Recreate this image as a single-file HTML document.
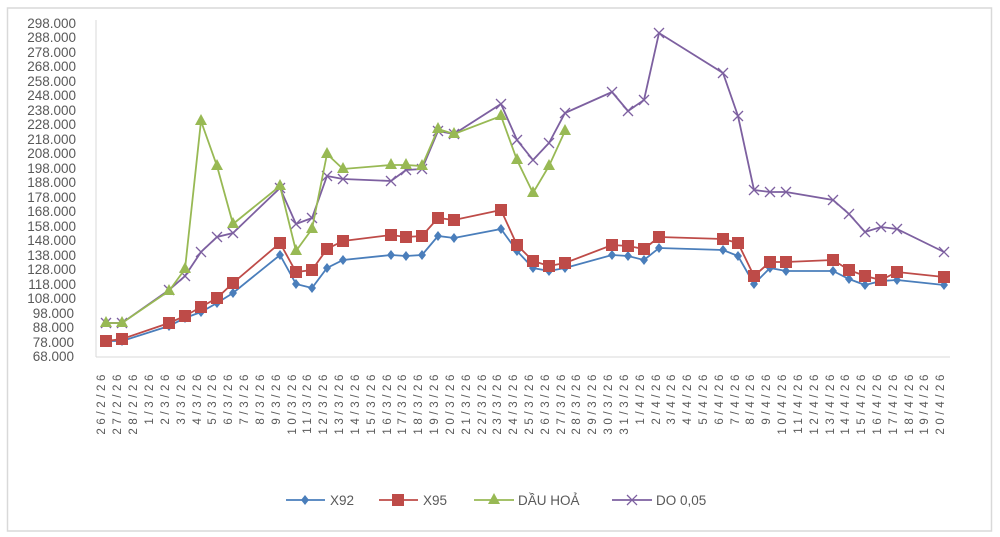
<!DOCTYPE html>
<html><head><meta charset="utf-8"><style>
html,body{margin:0;padding:0;background:#fff;}
svg{display:block;font-family:"Liberation Sans",sans-serif;}
</style></head><body>
<svg width="1000" height="537" viewBox="0 0 1000 537" xmlns="http://www.w3.org/2000/svg">
<rect x="7.5" y="8" width="984" height="523" fill="#fff" stroke="#d9d9d9" stroke-width="1.5"/>
<line x1="96" y1="20" x2="96" y2="357" stroke="#d9d9d9" stroke-width="1"/>
<line x1="96" y1="357" x2="950" y2="357" stroke="#d9d9d9" stroke-width="1"/>
<g font-size="13.5" fill="#595959" text-anchor="end">
<text x="76" y="28">298.000</text><text x="76" y="42">288.000</text><text x="76" y="57">278.000</text><text x="76" y="71">268.000</text><text x="76" y="86">258.000</text><text x="76" y="100">248.000</text><text x="76" y="115">238.000</text><text x="76" y="129">228.000</text><text x="76" y="144">218.000</text><text x="76" y="158">208.000</text><text x="76" y="173">198.000</text><text x="76" y="187">188.000</text><text x="76" y="202">178.000</text><text x="76" y="216">168.000</text><text x="76" y="231">158.000</text><text x="76" y="245">148.000</text><text x="76" y="260">138.000</text><text x="76" y="274">128.000</text><text x="76" y="289">118.000</text><text x="76" y="303">108.000</text><text x="74" y="318">98.000</text><text x="74" y="332">88.000</text><text x="74" y="347">78.000</text><text x="74" y="361">68.000</text>
</g>
<g font-size="11.5" fill="#595959" text-anchor="end" letter-spacing="3.6">
<text transform="translate(105,371) rotate(-90)">26/2/26</text>
<text transform="translate(121,371) rotate(-90)">27/2/26</text>
<text transform="translate(137,371) rotate(-90)">28/2/26</text>
<text transform="translate(153,371) rotate(-90)">1/3/26</text>
<text transform="translate(169,371) rotate(-90)">2/3/26</text>
<text transform="translate(185,371) rotate(-90)">3/3/26</text>
<text transform="translate(201,371) rotate(-90)">4/3/26</text>
<text transform="translate(216,371) rotate(-90)">5/3/26</text>
<text transform="translate(232,371) rotate(-90)">6/3/26</text>
<text transform="translate(248,371) rotate(-90)">7/3/26</text>
<text transform="translate(264,371) rotate(-90)">8/3/26</text>
<text transform="translate(280,371) rotate(-90)">9/3/26</text>
<text transform="translate(296,371) rotate(-90)">10/3/26</text>
<text transform="translate(311,371) rotate(-90)">11/3/26</text>
<text transform="translate(327,371) rotate(-90)">12/3/26</text>
<text transform="translate(343,371) rotate(-90)">13/3/26</text>
<text transform="translate(359,371) rotate(-90)">14/3/26</text>
<text transform="translate(375,371) rotate(-90)">15/3/26</text>
<text transform="translate(391,371) rotate(-90)">16/3/26</text>
<text transform="translate(406,371) rotate(-90)">17/3/26</text>
<text transform="translate(422,371) rotate(-90)">18/3/26</text>
<text transform="translate(438,371) rotate(-90)">19/3/26</text>
<text transform="translate(454,371) rotate(-90)">20/3/26</text>
<text transform="translate(470,371) rotate(-90)">21/3/26</text>
<text transform="translate(486,371) rotate(-90)">22/3/26</text>
<text transform="translate(501,371) rotate(-90)">23/3/26</text>
<text transform="translate(517,371) rotate(-90)">24/3/26</text>
<text transform="translate(533,371) rotate(-90)">25/3/26</text>
<text transform="translate(549,371) rotate(-90)">26/3/26</text>
<text transform="translate(565,371) rotate(-90)">27/3/26</text>
<text transform="translate(580,371) rotate(-90)">28/3/26</text>
<text transform="translate(596,371) rotate(-90)">29/3/26</text>
<text transform="translate(612,371) rotate(-90)">30/3/26</text>
<text transform="translate(628,371) rotate(-90)">31/3/26</text>
<text transform="translate(644,371) rotate(-90)">1/4/26</text>
<text transform="translate(660,371) rotate(-90)">2/4/26</text>
<text transform="translate(675,371) rotate(-90)">3/4/26</text>
<text transform="translate(691,371) rotate(-90)">4/4/26</text>
<text transform="translate(707,371) rotate(-90)">5/4/26</text>
<text transform="translate(723,371) rotate(-90)">6/4/26</text>
<text transform="translate(739,371) rotate(-90)">7/4/26</text>
<text transform="translate(754,371) rotate(-90)">8/4/26</text>
<text transform="translate(770,371) rotate(-90)">9/4/26</text>
<text transform="translate(786,371) rotate(-90)">10/4/26</text>
<text transform="translate(802,371) rotate(-90)">11/4/26</text>
<text transform="translate(818,371) rotate(-90)">12/4/26</text>
<text transform="translate(834,371) rotate(-90)">13/4/26</text>
<text transform="translate(849,371) rotate(-90)">14/4/26</text>
<text transform="translate(865,371) rotate(-90)">15/4/26</text>
<text transform="translate(881,371) rotate(-90)">16/4/26</text>
<text transform="translate(897,371) rotate(-90)">17/4/26</text>
<text transform="translate(913,371) rotate(-90)">18/4/26</text>
<text transform="translate(928,371) rotate(-90)">19/4/26</text>
<text transform="translate(944,371) rotate(-90)">20/4/26</text>
</g>
<defs>
<path id="dia" d="M0,-5 L4,0 L0,5 L-4,0Z" fill="#4a7ebb"/>
<rect id="sq" x="-6" y="-6" width="12" height="12" fill="#be4b48"/>
<path id="tri" d="M0,-7 L6,4 L-6,4Z" fill="#98b954"/>
<path id="xx" d="M-5,-5 L5,5 M-5,5 L5,-5" stroke="#7d60a0" stroke-width="1.3" fill="none"/>
</defs>
<polyline fill="none" stroke="#7d60a0" stroke-width="1.8" points="106,323 122,323 169,290 185,276 201,252 217,237 233,233 280,188 296,224 312,218 327,176 343,179 391,181 406,170 422,169 438,131 454,134 501,104 517,140 533,160 549,143 565,113 612,92 628,111 644,100 659,33 723,73 738,116 754,190 770,192 786,192 833,200 849,214 865,232 881,227 897,229 944,252"/>
<g><use href="#xx" x="106" y="323"/><use href="#xx" x="122" y="323"/><use href="#xx" x="169" y="290"/><use href="#xx" x="185" y="276"/><use href="#xx" x="201" y="252"/><use href="#xx" x="217" y="237"/><use href="#xx" x="233" y="233"/><use href="#xx" x="280" y="188"/><use href="#xx" x="296" y="224"/><use href="#xx" x="312" y="218"/><use href="#xx" x="327" y="176"/><use href="#xx" x="343" y="179"/><use href="#xx" x="391" y="181"/><use href="#xx" x="406" y="170"/><use href="#xx" x="422" y="169"/><use href="#xx" x="438" y="131"/><use href="#xx" x="454" y="134"/><use href="#xx" x="501" y="104"/><use href="#xx" x="517" y="140"/><use href="#xx" x="533" y="160"/><use href="#xx" x="549" y="143"/><use href="#xx" x="565" y="113"/><use href="#xx" x="612" y="92"/><use href="#xx" x="628" y="111"/><use href="#xx" x="644" y="100"/><use href="#xx" x="659" y="33"/><use href="#xx" x="723" y="73"/><use href="#xx" x="738" y="116"/><use href="#xx" x="754" y="190"/><use href="#xx" x="770" y="192"/><use href="#xx" x="786" y="192"/><use href="#xx" x="833" y="200"/><use href="#xx" x="849" y="214"/><use href="#xx" x="865" y="232"/><use href="#xx" x="881" y="227"/><use href="#xx" x="897" y="229"/><use href="#xx" x="944" y="252"/></g>
<polyline fill="none" stroke="#98b954" stroke-width="1.8" points="106,323 122,323 169,291 185,269 201,121 217,166 233,224 280,186 296,251 312,229 327,154 343,169 391,165 406,165 422,166 438,129 454,134 501,116 517,160 533,193 549,166 565,131"/>
<g><use href="#tri" x="106" y="323"/><use href="#tri" x="122" y="323"/><use href="#tri" x="169" y="291"/><use href="#tri" x="185" y="269"/><use href="#tri" x="201" y="121"/><use href="#tri" x="217" y="166"/><use href="#tri" x="233" y="224"/><use href="#tri" x="280" y="186"/><use href="#tri" x="296" y="251"/><use href="#tri" x="312" y="229"/><use href="#tri" x="327" y="154"/><use href="#tri" x="343" y="169"/><use href="#tri" x="391" y="165"/><use href="#tri" x="406" y="165"/><use href="#tri" x="422" y="166"/><use href="#tri" x="438" y="129"/><use href="#tri" x="454" y="134"/><use href="#tri" x="501" y="116"/><use href="#tri" x="517" y="160"/><use href="#tri" x="533" y="193"/><use href="#tri" x="549" y="166"/><use href="#tri" x="565" y="131"/></g>
<polyline fill="none" stroke="#4a7ebb" stroke-width="1.8" points="106,341 122,341 169,326 185,318 201,312 217,303 233,293 280,255 296,284 312,288 327,268 343,260 391,255 406,256 422,255 438,236 454,238 501,229 517,251 533,268 549,271 565,268 612,255 628,256 644,260 659,248 723,250 738,256 754,284 770,268 786,271 833,271 849,279 865,285 881,281 897,280 944,285"/>
<g><use href="#dia" x="106" y="341"/><use href="#dia" x="122" y="341"/><use href="#dia" x="169" y="326"/><use href="#dia" x="185" y="318"/><use href="#dia" x="201" y="312"/><use href="#dia" x="217" y="303"/><use href="#dia" x="233" y="293"/><use href="#dia" x="280" y="255"/><use href="#dia" x="296" y="284"/><use href="#dia" x="312" y="288"/><use href="#dia" x="327" y="268"/><use href="#dia" x="343" y="260"/><use href="#dia" x="391" y="255"/><use href="#dia" x="406" y="256"/><use href="#dia" x="422" y="255"/><use href="#dia" x="438" y="236"/><use href="#dia" x="454" y="238"/><use href="#dia" x="501" y="229"/><use href="#dia" x="517" y="251"/><use href="#dia" x="533" y="268"/><use href="#dia" x="549" y="271"/><use href="#dia" x="565" y="268"/><use href="#dia" x="612" y="255"/><use href="#dia" x="628" y="256"/><use href="#dia" x="644" y="260"/><use href="#dia" x="659" y="248"/><use href="#dia" x="723" y="250"/><use href="#dia" x="738" y="256"/><use href="#dia" x="754" y="284"/><use href="#dia" x="770" y="268"/><use href="#dia" x="786" y="271"/><use href="#dia" x="833" y="271"/><use href="#dia" x="849" y="279"/><use href="#dia" x="865" y="285"/><use href="#dia" x="881" y="281"/><use href="#dia" x="897" y="280"/><use href="#dia" x="944" y="285"/></g>
<polyline fill="none" stroke="#be4b48" stroke-width="1.8" points="106,341 122,339 169,323 185,316 201,307 217,298 233,283 280,243 296,272 312,270 327,249 343,241 391,235 406,237 422,236 438,218 454,220 501,210 517,245 533,261 549,266 565,263 612,245 628,246 644,249 659,237 723,239 738,243 754,276 770,262 786,262 833,260 849,270 865,276 881,280 897,272 944,277"/>
<g><use href="#sq" x="106" y="341"/><use href="#sq" x="122" y="339"/><use href="#sq" x="169" y="323"/><use href="#sq" x="185" y="316"/><use href="#sq" x="201" y="307"/><use href="#sq" x="217" y="298"/><use href="#sq" x="233" y="283"/><use href="#sq" x="280" y="243"/><use href="#sq" x="296" y="272"/><use href="#sq" x="312" y="270"/><use href="#sq" x="327" y="249"/><use href="#sq" x="343" y="241"/><use href="#sq" x="391" y="235"/><use href="#sq" x="406" y="237"/><use href="#sq" x="422" y="236"/><use href="#sq" x="438" y="218"/><use href="#sq" x="454" y="220"/><use href="#sq" x="501" y="210"/><use href="#sq" x="517" y="245"/><use href="#sq" x="533" y="261"/><use href="#sq" x="549" y="266"/><use href="#sq" x="565" y="263"/><use href="#sq" x="612" y="245"/><use href="#sq" x="628" y="246"/><use href="#sq" x="644" y="249"/><use href="#sq" x="659" y="237"/><use href="#sq" x="723" y="239"/><use href="#sq" x="738" y="243"/><use href="#sq" x="754" y="276"/><use href="#sq" x="770" y="262"/><use href="#sq" x="786" y="262"/><use href="#sq" x="833" y="260"/><use href="#sq" x="849" y="270"/><use href="#sq" x="865" y="276"/><use href="#sq" x="881" y="280"/><use href="#sq" x="897" y="272"/><use href="#sq" x="944" y="277"/></g>
<g font-size="13.5" fill="#595959">
<line x1="286" y1="500" x2="325" y2="500" stroke="#4a7ebb" stroke-width="1.8"/><use href="#dia" x="305" y="500"/><text x="330" y="505">X92</text>
<line x1="379" y1="500" x2="418" y2="500" stroke="#be4b48" stroke-width="1.8"/><use href="#sq" x="398" y="500"/><text x="423" y="505">X95</text>
<line x1="474" y1="500" x2="514" y2="500" stroke="#98b954" stroke-width="1.8"/><use href="#tri" x="494" y="500"/><text x="518" y="505">DẦU HOẢ</text>
<line x1="612" y1="500" x2="652" y2="500" stroke="#7d60a0" stroke-width="1.8"/><use href="#xx" x="632" y="500"/><text x="656" y="505">DO 0,05</text>
</g>
</svg>
</body></html>
